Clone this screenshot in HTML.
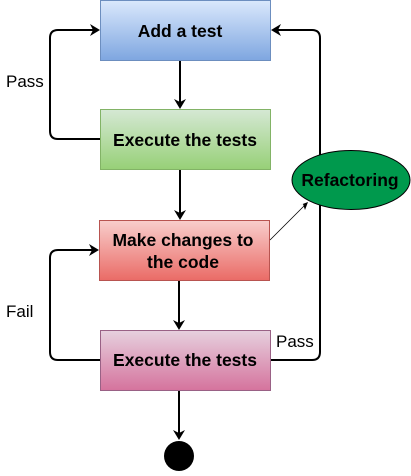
<!DOCTYPE html>
<html><head><meta charset="utf-8"><style>
body{margin:0;background:#fff;width:411px;height:471px;overflow:hidden}
</style></head><body>
<svg width="411" height="471" viewBox="0 0 411 471" xmlns="http://www.w3.org/2000/svg" font-family="Liberation Sans, sans-serif">
<defs>
<linearGradient id="gb" x1="0" y1="0" x2="0" y2="1"><stop offset="0" stop-color="#dae8fc"/><stop offset="1" stop-color="#7ea6e0"/></linearGradient>
<linearGradient id="gg" x1="0" y1="0" x2="0" y2="1"><stop offset="0" stop-color="#d5e8d4"/><stop offset="1" stop-color="#97d077"/></linearGradient>
<linearGradient id="gr" x1="0" y1="0" x2="0" y2="1"><stop offset="0" stop-color="#f8cecc"/><stop offset="1" stop-color="#ea6b66"/></linearGradient>
<linearGradient id="gp" x1="0" y1="0" x2="0" y2="1"><stop offset="0" stop-color="#e6d0de"/><stop offset="1" stop-color="#d5739d"/></linearGradient>
</defs>
<g fill="none" stroke="#000" stroke-width="2">
<line x1="180" y1="61" x2="180" y2="103"/>
<line x1="180" y1="170" x2="180" y2="214"/>
<line x1="179" y1="281" x2="179" y2="324"/>
<line x1="179" y1="391" x2="179" y2="434"/>
<path d="M100 139 H58 Q50 139 50 131 V38 Q50 30 58 30 H94"/>
<path d="M100 360 H58 Q50 360 50 352 V258 Q50 250 58 250 H93"/>
<path d="M270 360 H312 Q320 360 320 352 V38 Q320 30 312 30 H277"/>
</g>
<rect x="100.5" y="0.5" width="170" height="60" fill="url(#gb)" stroke="#6c8ebf"/>
<rect x="100.5" y="109.5" width="170" height="60" fill="url(#gg)" stroke="#82b366"/>
<rect x="99.5" y="220.5" width="170" height="60" fill="url(#gr)" stroke="#b85450"/>
<rect x="100.5" y="330.5" width="170" height="60" fill="url(#gp)" stroke="#996185"/>
<ellipse cx="351" cy="180" rx="59" ry="29.5" fill="#00994d" stroke="#000"/>
<circle cx="179" cy="456" r="15" fill="#000"/>
<line x1="270" y1="240" x2="305" y2="205" stroke="#000" stroke-width="0.8"/>
<g fill="#000">
<path d="M180 109 L174 99 L180 102 L186 99Z"/>
<path d="M180 220 L174 210 L180 213 L186 210Z"/>
<path d="M179 330 L173 320 L179 323 L185 320Z"/>
<path d="M179 440 L173 430 L179 433 L185 430Z"/>
<path d="M100 30 L90 24 L93 30 L90 36Z"/>
<path d="M99 250 L89 244 L92 250 L89 256Z"/>
<path d="M271 30 L281 24 L278 30 L281 36Z"/>
<path d="M308 202 L300 205 L303 204 L305 210Z"/>
</g>
<g font-weight="bold" font-size="17.5" text-anchor="middle" fill="#000">
<text x="180" y="37">Add a test</text>
<text x="185" y="146">Execute the tests</text>
<text x="183" y="246">Make changes to</text>
<text x="183" y="268">the code</text>
<text x="185" y="366">Execute the tests</text>
<text x="350" y="186">Refactoring</text>
</g>
<g font-size="17" fill="#000">
<text x="6" y="87">Pass</text>
<text x="6" y="317">Fail</text>
<text x="276" y="347">Pass</text>
</g>
</svg>
</body></html>
